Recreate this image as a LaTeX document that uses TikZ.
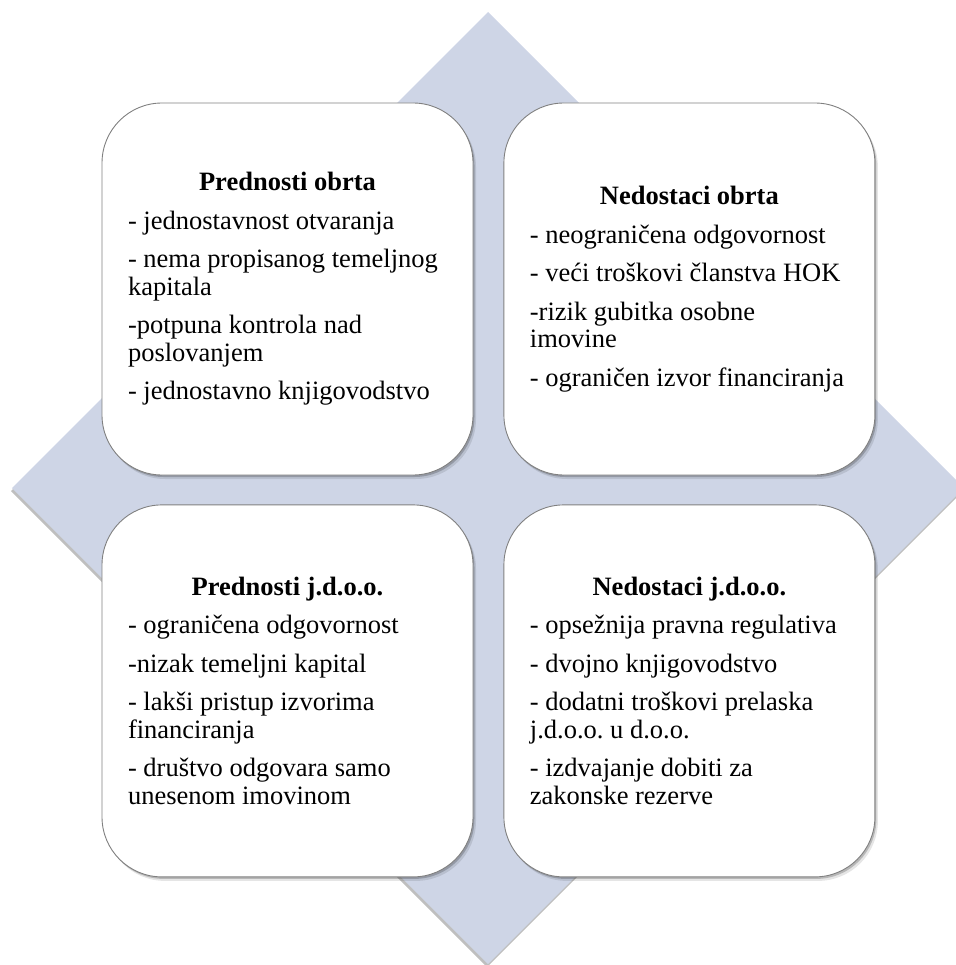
\documentclass[tikz,border=0pt]{standalone}
\usepackage{fontspec}
\setmainfont{Liberation Serif}
\usetikzlibrary{positioning}
\usetikzlibrary{shadows}
\definecolor{rombboja}{RGB}{206,213,230}
\definecolor{rubboja}{RGB}{128,128,128}
\newcommand{\naslov}[1]{\raggedright\spaceskip=0pt\xspaceskip=0pt
    \setlength{\parskip}{11pt}{\centering\bfseries #1\par}}
\frenchspacing

\begin{document}
\begin{tikzpicture}[
        x=1pt, y=1pt,
        okvir/.style={draw=rubboja, line width=0.9pt, fill=white,
            rounded corners=60pt, minimum width=371pt, minimum height=372pt,
            text width=319pt, inner xsep=26pt, inner ysep=0pt,
            font=\fontsize{26.5}{27.5}\selectfont,
            drop shadow={shadow xshift=3pt, shadow yshift=-4pt, opacity=0.10, fill=black},
            drop shadow={shadow xshift=1.5pt, shadow yshift=-2pt, opacity=0.20, fill=black}},
    ]
    \useasboundingbox (0,0) rectangle (955,-965);

    % romb u pozadini
    \fill[rombboja, drop shadow={shadow xshift=-1pt, shadow yshift=-3pt, opacity=0.25, fill=black}]
        (488,-12) -- (964,-488) -- (488,-964) -- (12,-488) -- cycle;

    \node[okvir] (po) at (287.5,-289) {\naslov{Prednosti obrta}
        - jednostavnost otvaranja\par
        - nema propisanog temeljnog\newline kapitala\par
        -potpuna kontrola nad\newline poslovanjem\par
        - jednostavno knjigovodstvo};

    \node[okvir, right=30pt of po] (no) {\naslov{Nedostaci obrta}
        - neograničena odgovornost\par
        - veći troškovi članstva HOK\par
        -rizik gubitka osobne\newline imovine\par
        - ograničen izvor financiranja};

    \node[okvir, below=29pt of po] (pj) {\naslov{Prednosti j.d.o.o.}
        - ograničena odgovornost\par
        -nizak temeljni kapital\par
        - lakši pristup izvorima\newline financiranja\par
        - društvo odgovara samo\newline unesenom imovinom};

    \node[okvir, below=29pt of no] (nj) {\naslov{Nedostaci j.d.o.o.}
        - opsežnija pravna regulativa\par
        - dvojno knjigovodstvo\par
        - dodatni troškovi prelaska\newline j.d.o.o. u d.o.o.\par
        - izdvajanje dobiti za\newline zakonske rezerve};

\end{tikzpicture}
\end{document}
